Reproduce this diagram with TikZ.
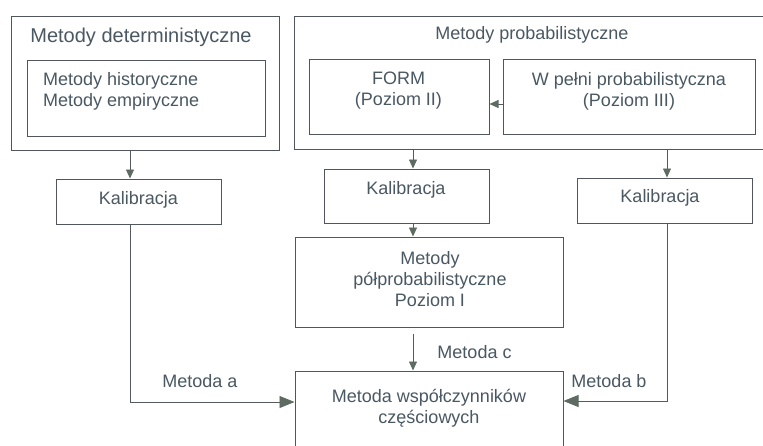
\documentclass[tikz,border=0pt]{standalone}
\usepackage{fontspec}
\setmainfont{Liberation Sans}
\usetikzlibrary{arrows.meta}
\definecolor{txt}{HTML}{4A5862}
\definecolor{ln}{HTML}{555A5E}
\definecolor{bx}{HTML}{50555E}
\definecolor{ah}{HTML}{5E6B62}
\begin{document}
\begin{tikzpicture}[x=1pt,y=-1pt,
  box/.style={draw=bx,line width=1pt,rectangle,inner sep=0pt},
  lbl/.style={text=txt,font=\fontsize{18}{21}\selectfont,align=center,inner sep=0pt},
  head/.style={lbl,font=\fontsize{20}{24}\selectfont},
  conn/.style={draw=ln,line width=0.8pt,-{Triangle[length=9pt,width=8pt,color=ah]}},
  connbig/.style={draw=ln,line width=0.8pt,-{Triangle[length=15pt,width=12pt,color=ah]}}]
\fill[white] (0,0) rectangle (763,445);
\useasboundingbox (0,0) rectangle (763,445);
% boxes
\node[box,minimum width=268pt,minimum height=134pt] (det) at (145,83) {};
\node[box,minimum width=238pt,minimum height=76pt] (detin) at (146,98) {};
\node[box,minimum width=165pt,minimum height=45pt] (kalA) at (138.5,201.5) {};
\node[box,minimum width=476pt,minimum height=133pt] (prob) at (532,82.5) {};
\node[box,minimum width=180pt,minimum height=75pt] (form) at (399,96.5) {};
\node[box,minimum width=252pt,minimum height=75pt] (wp) at (629,96.5) {};
\node[box,minimum width=165pt,minimum height=54pt] (kalM) at (406.5,196) {};
\node[box,minimum width=175pt,minimum height=45pt] (kalR) at (664.5,200.5) {};
\node[box,minimum width=268pt,minimum height=90pt] (polp) at (429,282) {};
\node[box,minimum width=268pt,minimum height=77pt] (wsp) at (429,409.5) {};
% texts
\node[head] (detT) at (141,37) {Metody deterministyczne};
\node[lbl,align=left,anchor=west] (detinT) at (43,91) {Metody historyczne\\Metody empiryczne};
\node[lbl] (kalAT) at (138.5,200) {Kalibracja};
\node[lbl] (probT) at (532,35) {Metody probabilistyczne};
\node[lbl] (formT) at (398.5,91) {FORM\\(Poziom II)};
\node[lbl] (wpT) at (629,91) {W pełni probabilistyczna\\(Poziom III)};
\node[lbl] (kalMT) at (406,190) {Kalibracja};
\node[lbl] (kalRT) at (660,197.5) {Kalibracja};
\node[lbl] (polpT) at (430,279) {Metody\\półprobabilistyczne\\Poziom I};
\node[lbl] (wspT) at (429,408.5) {Metoda współczynników\\częściowych};
\node[lbl] (ma) at (200,381.5) {Metoda a};
\node[lbl] (mb) at (609,381.5) {Metoda b};
\node[lbl] (mc) at (474.5,352.5) {Metoda c};
% connectors
\coordinate (xa) at (130,0);
\coordinate (xm) at (413,0);
\coordinate (xr) at (667,0);
\coordinate (yw) at (0,104);
\coordinate (ya) at (0,402);
\coordinate (yb) at (0,401);
\draw[conn] (det.south -| xa) -- (kalA.north -| xa);
\draw[conn] (prob.south -| xm) -- (kalM.north -| xm);
\draw[conn] (kalM.south -| xm) -- (polp.north -| xm);
\draw[conn] (prob.south -| xr) -- (kalR.north -| xr);
\draw[conn] (wp.west |- yw) -- (form.east |- yw);
\draw[conn,shorten <=6pt] (polp.south -| xm) -- (wsp.north -| xm);
\draw[connbig] (kalA.south -| xa) |- (wsp.west |- ya);
\draw[connbig] (kalR.south -| xr) |- (wsp.east |- yb);
\end{tikzpicture}
\end{document}
